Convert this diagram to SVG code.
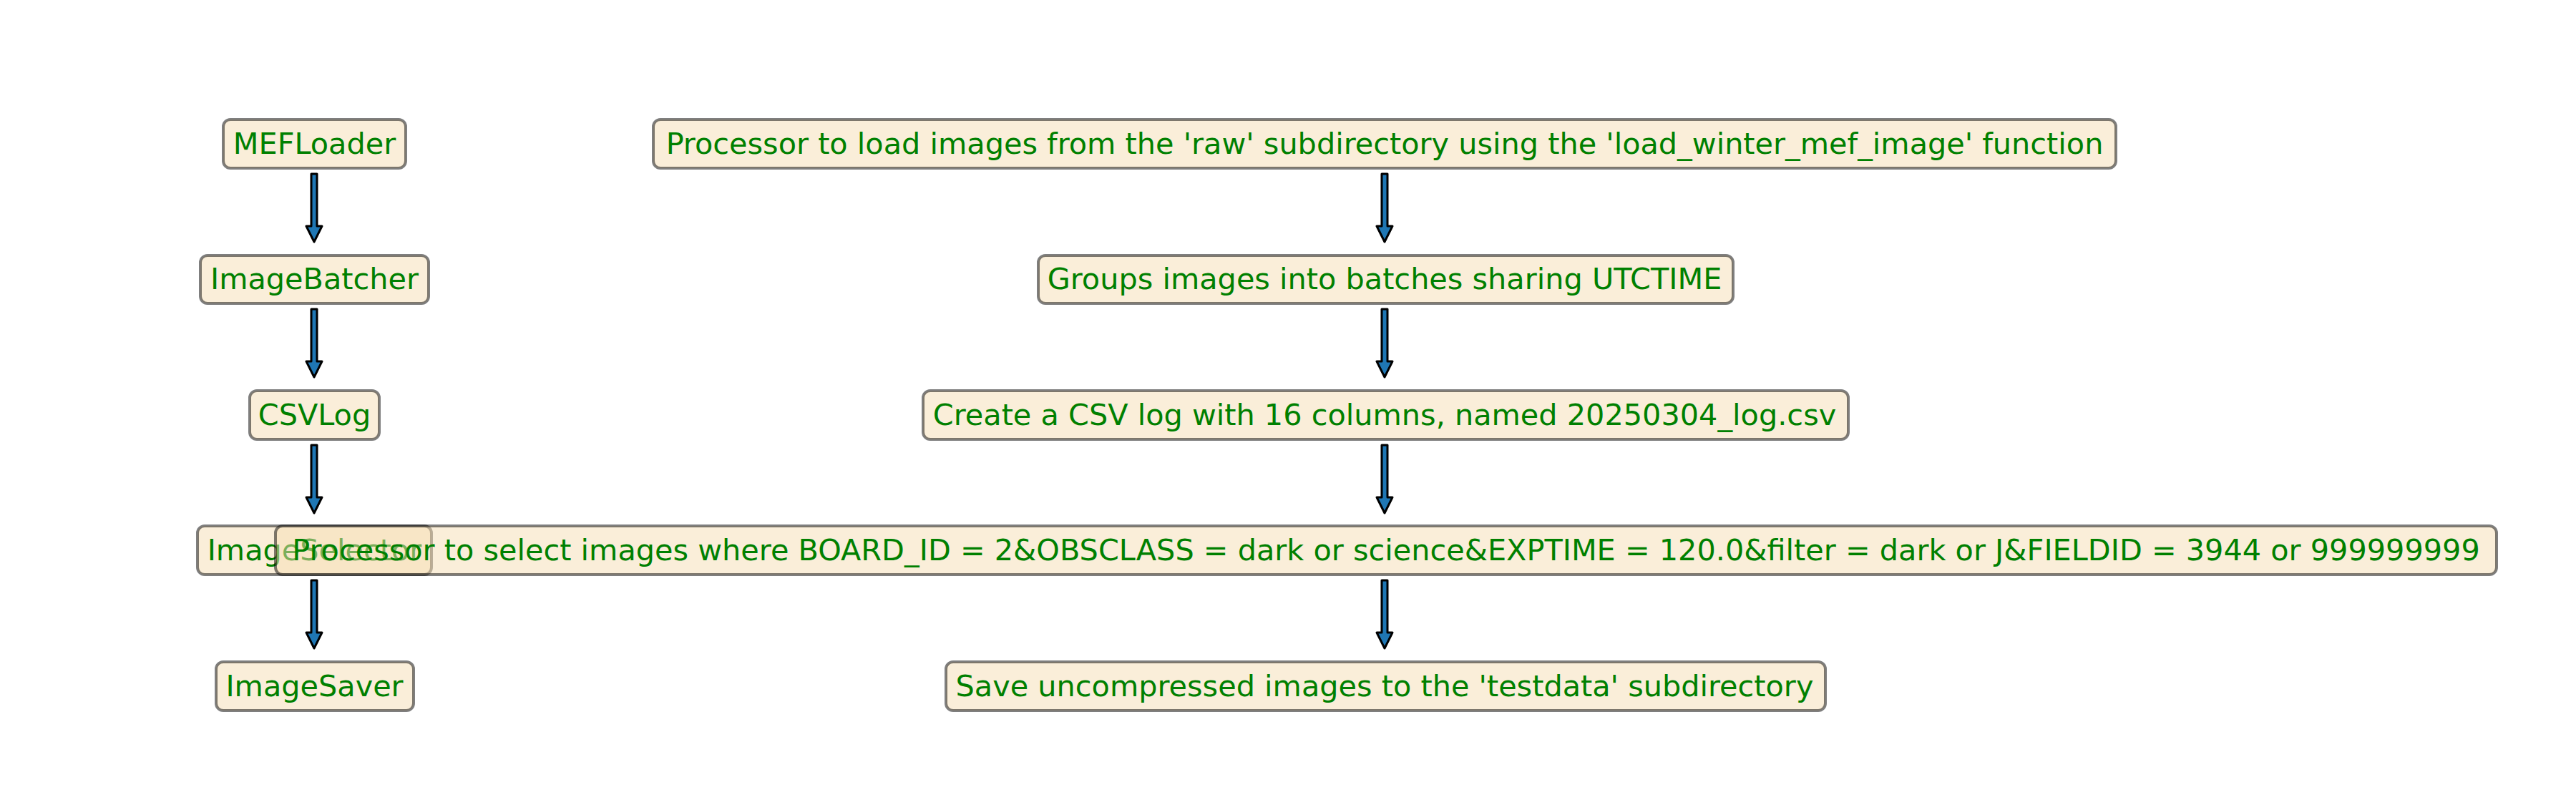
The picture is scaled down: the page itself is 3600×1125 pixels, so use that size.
<svg xmlns="http://www.w3.org/2000/svg" width="3600" height="1125" viewBox="0 0 3600 1125">
<style>
.b{fill:#f5deb3;fill-opacity:0.5;stroke:#000;stroke-opacity:0.5;stroke-width:4}
.t{font-family:"DejaVu Sans",sans-serif;font-size:41.4px;fill:#008000;text-anchor:middle}
.a{fill:#1f77b4;stroke:#000;stroke-width:3;stroke-linejoin:round}
</style>
<defs><path id="arr" class="a" d="M-4,0 L4,0 L4,73 L11,73 L0,95 L-11,73 L-4,73 Z"/></defs>
<rect width="3600" height="1125" fill="#fff"/>
<g id="connectors">
<use href="#arr" x="439" y="243"/><use href="#arr" x="439" y="432"/><use href="#arr" x="439" y="622"/><use href="#arr" x="439" y="811"/>
<use href="#arr" x="1935" y="243"/><use href="#arr" x="1935" y="432"/><use href="#arr" x="1935" y="622"/><use href="#arr" x="1935" y="811"/>
</g>
<g id="MEFLoader"><rect class="b" x="312" y="167" width="255" height="68" rx="10"/><text class="t" x="439.5" y="215">MEFLoader</text></g>
<g id="ImageBatcher"><rect class="b" x="280" y="357" width="319" height="67" rx="10"/><text class="t" x="439.5" y="404">ImageBatcher</text></g>
<g id="CSVLog"><rect class="b" x="349" y="546" width="181" height="68" rx="10"/><text class="t" x="439.5" y="594">CSVLog</text></g>
<g id="ImageSelector"><rect class="b" x="276" y="735" width="327" height="68" rx="10"/><text class="t" x="439.5" y="783">ImageSelector</text></g>
<g id="ImageSaver"><rect class="b" x="302" y="925" width="276" height="68" rx="10"/><text class="t" x="439.5" y="973">ImageSaver</text></g>
<g id="desc1"><rect class="b" x="913" y="167" width="2044" height="68" rx="10"/><text class="t" x="1935" y="215">Processor to load images from the 'raw' subdirectory using the 'load_winter_mef_image' function</text></g>
<g id="desc2"><rect class="b" x="1451" y="357" width="971" height="67" rx="10"/><text class="t" x="1935" y="404">Groups images into batches sharing UTCTIME</text></g>
<g id="desc3"><rect class="b" x="1290" y="546" width="1293" height="68" rx="10"/><text class="t" x="1935" y="594">Create a CSV log with 16 columns, named 20250304_log.csv</text></g>
<g id="desc4"><rect class="b" x="385" y="735" width="3104" height="68" rx="10"/><text class="t" x="1937" y="783">Processor to select images where BOARD_ID = 2&amp;OBSCLASS = dark or science&amp;EXPTIME = 120.0&amp;filter = dark or J&amp;FIELDID = 3944 or 999999999</text></g>
<g id="desc5"><rect class="b" x="1322" y="925" width="1229" height="68" rx="10"/><text class="t" x="1935" y="973">Save uncompressed images to the 'testdata' subdirectory</text></g>
</svg>
